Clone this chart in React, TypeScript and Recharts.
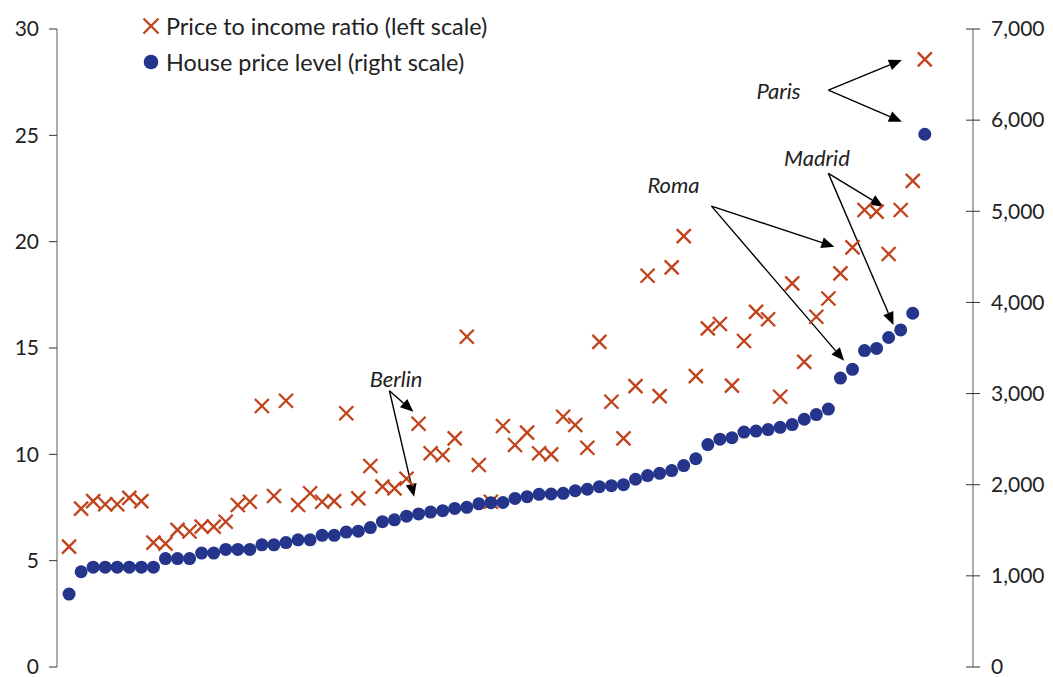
import React from 'react';
import { ComposedChart, Scatter, XAxis, YAxis, ReferenceLine, ReferenceDot } from 'recharts';

// one entry per city, sorted by house price level
const ratio = [
  5.66, 7.45, 7.8, 7.65, 7.65, 7.95, 7.8, 5.85, 5.8, 6.45,
  6.37, 6.6, 6.6, 6.83, 7.62, 7.77, 12.27, 8.04, 12.52, 7.62,
  8.17, 7.77, 7.8, 11.93, 7.93, 9.45, 8.48, 8.4, 8.85, 11.44,
  10.05, 9.97, 10.75, 15.53, 9.5, 7.77, 11.33, 10.44, 11.02, 10.05,
  10.0, 11.77, 11.38, 10.31, 15.29, 12.47, 10.75, 13.21, 18.4, 12.74,
  18.79, 20.26, 13.68, 15.92, 16.13, 13.23, 15.33, 16.7, 16.35, 12.71,
  18.04, 14.35, 16.47, 17.33, 18.51, 19.73, 21.49, 21.41, 19.42, 21.49,
  22.86, 28.57,
];

const price = [
  800, 1045, 1095, 1095, 1095, 1095, 1095, 1095, 1190, 1190,
  1190, 1250, 1250, 1290, 1290, 1290, 1340, 1340, 1365, 1395,
  1395, 1445, 1445, 1480, 1490, 1530, 1595, 1615, 1655, 1680,
  1700, 1715, 1740, 1752, 1790, 1803, 1805, 1850, 1869, 1895,
  1898, 1906, 1934, 1950, 1978, 1990, 2000, 2060, 2100, 2125,
  2155, 2210, 2285, 2440, 2500, 2515, 2578, 2588, 2605, 2630,
  2660, 2718, 2770, 2830, 3170, 3266, 3472, 3495, 3615, 3698,
  3881, 5845,
];

const leftTicks = [0, 5, 10, 15, 20, 25, 30];
const rightTicks = [0, 1000, 2000, 3000, 4000, 5000, 6000, 7000];

const seriesNames = ['Price to income ratio (left scale)', 'House price level (right scale)'];

// city call-outs, in the chart's own units (city index, left scale)
const notes = [
  { label: 'Berlin', at: [27.13, 13.53], from: [26.58, 12.99], to: [[28.57, 12.0], [28.63, 8.0]] },
  { label: 'Roma', at: [50.15, 22.66], from: [53.3, 21.67], to: [[63.5, 19.76], [64.31, 14.4]] },
  { label: 'Madrid', at: [62.05, 23.92], from: [63.0, 23.21], to: [[67.57, 21.64], [68.4, 16.08]] },
  { label: 'Paris', at: [58.86, 27.05], from: [63.0, 27.13], to: [[69.1, 28.54], [69.1, 25.64]] },
];

const data = ratio.map((r, i) => ({ idx: i, ratio: r, price: price[i] }));

const RED = '#C1431C';
const BLUE = '#24358B';
const FONT = "Lato, 'Open Sans', sans-serif";

const Cross = (p: any) => {
  const s = 7;
  return (
    <g stroke={RED} strokeWidth={2.3}>
      <line x1={p.cx - s} y1={p.cy - s} x2={p.cx + s} y2={p.cy + s} />
      <line x1={p.cx - s} y1={p.cy + s} x2={p.cx + s} y2={p.cy - s} />
    </g>
  );
};

const Dot = (p: any) => <circle cx={p.cx} cy={p.cy} r={6.5} fill={BLUE} />;

const Arrow = (p: any) => {
  const { x1, y1, x2, y2 } = p;
  const a = Math.atan2(y2 - y1, x2 - x1);
  const L = 13;
  const W = 5.5;
  const bx = x2 - L * Math.cos(a);
  const by = y2 - L * Math.sin(a);
  const pts = `${x2},${y2} ${bx + W * Math.sin(a)},${by - W * Math.cos(a)} ${bx - W * Math.sin(a)},${by + W * Math.cos(a)}`;
  return (
    <g>
      <line x1={x1} y1={y1} x2={bx} y2={by} stroke="#000" strokeWidth={1.4} />
      <polygon points={pts} fill="#000" />
    </g>
  );
};

const RightTick = (p: any) => {
  const { x, y, payload } = p;
  return (
    <g>
      <line x1={x - 7} x2={x + 7} y1={y} y2={y} stroke="#333" />
      <text x={x + 18} y={y} dy="0.35em" fontSize={21} fontFamily={FONT} fill="#222">
        {payload.value.toLocaleString('en-US')}
      </text>
    </g>
  );
};

export default function App() {
  return (
    <div style={{ position: 'fixed', left: 0, top: 0, width: 1053, height: 677, background: '#fff' }}>
      <ComposedChart width={1053} height={677} data={data} margin={{ top: 29, right: 0, bottom: 10, left: 0 }}>
        <XAxis dataKey="idx" type="number" domain={[-1, 75]} hide />
        <YAxis
          yAxisId="left"
          domain={[0, 30]}
          ticks={leftTicks}
          interval={0}
          width={57}
          tickSize={8}
          tickMargin={10}
          axisLine={{ stroke: '#808080', strokeWidth: 1.3 }}
          tickLine={{ stroke: '#333' }}
          tick={{ fontSize: 21, fontFamily: FONT, fill: '#222' }}
        />
        <YAxis
          yAxisId="right"
          orientation="right"
          domain={[0, 7000]}
          ticks={rightTicks}
          interval={0}
          width={80}
          tickSize={0}
          tickMargin={0}
          tickLine={false}
          axisLine={{ stroke: '#808080', strokeWidth: 1.3 }}
          tick={<RightTick />}
        />
        <Scatter yAxisId="left" dataKey="ratio" name={seriesNames[0]} shape={Cross} isAnimationActive={false} />
        <Scatter yAxisId="right" dataKey="price" name={seriesNames[1]} shape={Dot} isAnimationActive={false} />
        {notes.map((n) =>
          n.to.map((t, k) => (
            <ReferenceLine
              key={n.label + k}
              yAxisId="left"
              ifOverflow="visible"
              segment={[{ x: n.from[0], y: n.from[1] }, { x: t[0], y: t[1] }]}
              shape={Arrow}
            />
          ))
        )}
        {notes.map((n) => (
          <ReferenceDot
            key={n.label}
            yAxisId="left"
            x={n.at[0]}
            y={n.at[1]}
            ifOverflow="visible"
            shape={(p: any) => (
              <text x={p.cx} y={p.cy} dy="0.35em" textAnchor="middle" fontSize={22} fontStyle="italic"
                fontFamily={FONT} fill="#222">
                {n.label}
              </text>
            )}
          />
        ))}
      </ComposedChart>
      <div style={{ position: 'absolute', left: 142, top: 8, fontFamily: FONT, fontSize: 23.4, color: '#222', lineHeight: '36px' }}>
        <div style={{ display: 'flex', alignItems: 'center' }}>
          <svg width={18} height={18} style={{ marginRight: 6 }}>
            <g stroke={RED} strokeWidth={2.3}>
              <line x1={1.5} y1={1.5} x2={16.5} y2={16.5} />
              <line x1={1.5} y1={16.5} x2={16.5} y2={1.5} />
            </g>
          </svg>
          {seriesNames[0]}
        </div>
        <div style={{ display: 'flex', alignItems: 'center' }}>
          <svg width={18} height={18} style={{ marginRight: 6 }}>
            <circle cx={9} cy={9} r={7.3} fill={BLUE} />
          </svg>
          {seriesNames[1]}
        </div>
      </div>
    </div>
  );
}
